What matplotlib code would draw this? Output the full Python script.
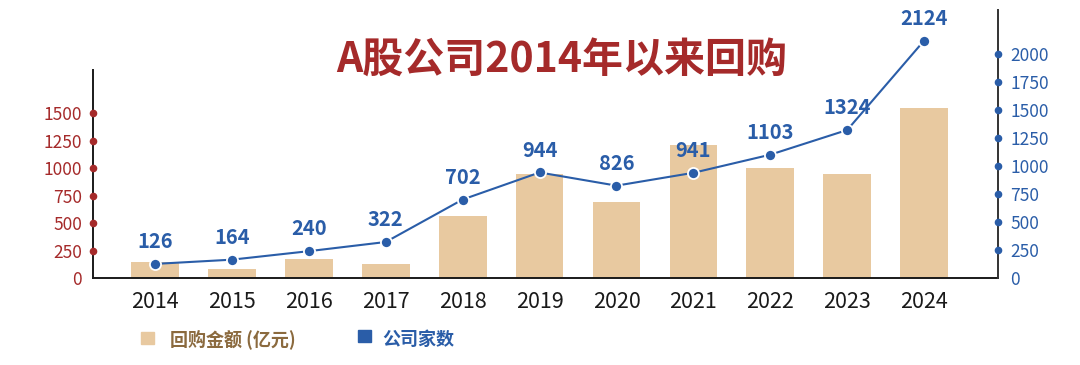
import matplotlib
matplotlib.use("Agg")
import matplotlib.pyplot as plt
import matplotlib.transforms as mtransforms
from matplotlib.patches import Rectangle

plt.rcParams['font.family'] = ['Noto Sans CJK SC', 'DejaVu Sans']

years = ["2014", "2015", "2016", "2017", "2018", "2019", "2020", "2021", "2022", "2023", "2024"]
amount = [145, 78, 172, 128, 565, 945, 690, 1215, 1005, 945, 1550]   # 回购金额 (亿元)
companies = [126, 164, 240, 322, 702, 944, 826, 941, 1103, 1324, 2124]  # 公司家数
left_ticks = [0, 250, 500, 750, 1000, 1250, 1500]
right_ticks = [0, 250, 500, 750, 1000, 1250, 1500, 1750, 2000]

title = "A股公司2014年以来回购"
legend_amount = "回购金额 (亿元)"
legend_companies = "公司家数"

BAR = "#E8C9A0"
BLUE = "#2A5DA8"
RED = "#A52A2A"
BROWN = "#8B6A3E"

W, H = 1080, 365
fig = plt.figure(figsize=(W / 100, H / 100), dpi=100)
x0, x1, ytop, ybot = 93, 998, 10, 278
ax = fig.add_axes([x0 / W, (H - ybot) / H, (x1 - x0) / W, (ybot - ytop) / H])

xs = list(range(len(years)))
ax.bar(xs, amount, width=0.62, color=BAR, zorder=1)
ax.set_xlim(-0.806, 10.96)
ax.set_ylim(0, 268 / 0.1098)
ax.set_xticks(xs)
ax.set_xticklabels(years, fontsize=15.5, color="#1a1a1a")
ax.tick_params(axis="x", length=0, pad=9)
ax.set_yticks(left_ticks)
ax.set_yticklabels([str(t) for t in left_ticks], fontsize=12.5, color=RED)
ax.tick_params(axis="y", length=0, pad=8)
for s in ["top", "right"]:
    ax.spines[s].set_visible(False)
ax.spines["left"].set_bounds(0, (278 - 70) / 0.1098)
ax.spines["left"].set_linewidth(1.4)
ax.spines["left"].set_color("#1a1a1a")
ax.spines["bottom"].set_linewidth(1.4)
ax.spines["bottom"].set_color("#1a1a1a")
trl = mtransforms.blended_transform_factory(ax.transAxes, ax.transData)
ax.scatter([0] * (len(left_ticks) - 1), left_ticks[1:], s=20, color=RED,
           transform=trl, clip_on=False, zorder=5)

ax2 = ax.twinx()
ax2.set_ylim(0, 268 / 0.1118)
ax2.plot(xs, companies, color=BLUE, lw=1.5, marker="o", markersize=8,
         markerfacecolor=BLUE, markeredgecolor="white", markeredgewidth=1.3, zorder=3)
for x, v in zip(xs, companies):
    ax2.annotate(str(v), (x, v), xytext=(0, 16), textcoords="offset points",
                 ha="center", va="center", fontsize=14.5, fontweight="bold", color=BLUE)
ax2.set_yticks(right_ticks)
ax2.set_yticklabels([str(t) for t in right_ticks], fontsize=12.5, color=BLUE)
ax2.tick_params(axis="y", length=0, pad=9)
for s in ["top", "left", "bottom"]:
    ax2.spines[s].set_visible(False)
ax2.spines["right"].set_linewidth(1.4)
ax2.spines["right"].set_color("#333333")
trr = mtransforms.blended_transform_factory(ax2.transAxes, ax2.transData)
ax2.scatter([1] * (len(right_ticks) - 1), right_ticks[1:], s=20, color=BLUE,
            transform=trr, clip_on=False, zorder=5)

fig.text(562 / W, 1 - 61 / H, title, ha="center", va="center",
         fontsize=29.5, fontweight="bold", color=RED)

# legend
fig.patches.append(Rectangle((141 / W, 1 - 344 / H), 13 / W, 12 / H,
                             transform=fig.transFigure, color=BAR, figure=fig))
fig.text(170 / W, 1 - 339 / H, legend_amount, ha="left", va="center",
         fontsize=13, fontweight="bold", color=BROWN)
fig.patches.append(Rectangle((358 / W, 1 - 342 / H), 13 / W, 12 / H,
                             transform=fig.transFigure, color=BLUE, figure=fig))
fig.text(382 / W, 1 - 339 / H, legend_companies, ha="left", va="center",
         fontsize=13, fontweight="bold", color=BLUE)

fig.savefig("out.png", dpi=100)
